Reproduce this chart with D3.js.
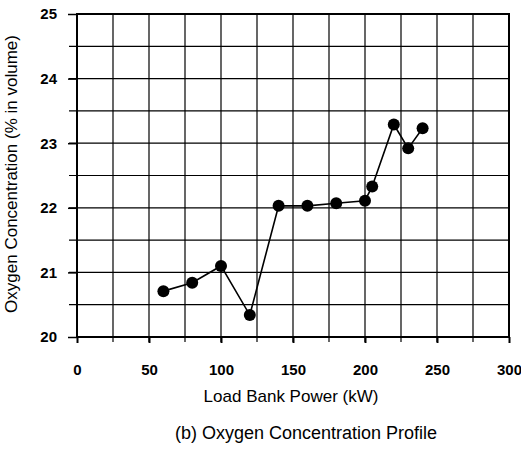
<!DOCTYPE html>
<html>
<head>
<meta charset="utf-8">
<script src="https://cdn.jsdelivr.net/npm/d3@7"></script>
<style>
  body { margin: 0; background: #fff; }
  text { font-family: "Liberation Sans", Arial, sans-serif; fill: #000; }
  .tick-label { font-size: 15px; font-weight: bold; }
  .label { font-size: 17px; }
  .caption { font-size: 18px; }
</style>
</head>
<body>
<div class="svg-container"></div>
<script>
var width = 521;
var height = 449;

var padding = { "top": 14, "right": 12, "bottom": 112, "left": 77 };

// data
var powerKW = [60, 80, 100, 120, 140, 160, 180, 200, 205, 220, 230, 240];
var oxygenPct = [20.71, 20.84, 21.10, 20.34, 22.03, 22.03, 22.07, 22.11, 22.33, 23.29, 22.92, 23.23];

var xTicks = [0, 50, 100, 150, 200, 250, 300];
var yTicks = [20, 21, 22, 23, 24, 25];

var innerW = width - padding.left - padding.right;
var innerH = height - padding.top - padding.bottom;

var svg = d3.select(".svg-container")
              .append("svg")
              .attr("width", width)
              .attr("height", height)
              .append("g")
              .attr("transform", "translate(" + padding.left + "," + padding.top + ")");

var scaleX = d3.scaleLinear().domain([0, 300]).range([0, innerW]);
var scaleY = d3.scaleLinear().domain([20, 25]).range([innerH, 0]);

// grid lines every 25 kW and every 0.5 %
svg.append("g")
    .selectAll("line")
    .data(d3.range(25, 300, 25))
    .enter()
    .append("line")
    .attr("x1", function(d) { return scaleX(d); })
    .attr("x2", function(d) { return scaleX(d); })
    .attr("y1", 0)
    .attr("y2", innerH + 5)
    .attr("stroke", "#000")
    .attr("stroke-width", 1.2);

svg.append("g")
    .selectAll("line")
    .data(d3.range(20.5, 25, 0.5))
    .enter()
    .append("line")
    .attr("x1", -8)
    .attr("x2", innerW)
    .attr("y1", function(d) { return scaleY(d); })
    .attr("y2", function(d) { return scaleY(d); })
    .attr("stroke", "#000")
    .attr("stroke-width", 1.2);

// frame
svg.append("rect")
    .attr("x", 0)
    .attr("y", 0)
    .attr("width", innerW)
    .attr("height", innerH)
    .attr("fill", "none")
    .attr("stroke", "#000")
    .attr("stroke-width", 2);

// axis ticks on bottom and left
svg.append("g")
    .attr("transform", "translate(0," + innerH + ")")
    .call(d3.axisBottom(scaleX).tickValues(xTicks).tickFormat(d3.format("d")).tickSize(6).tickPadding(21))
    .call(function(g) {
        g.select(".domain").remove();
        g.selectAll(".tick line").attr("stroke-width", 2);
        g.selectAll(".tick text").attr("class", "tick-label").attr("font-size", null).attr("font-family", null);
    });

svg.append("g")
    .call(d3.axisLeft(scaleY).tickValues(yTicks).tickFormat(d3.format("d")).tickSize(9).tickPadding(11))
    .call(function(g) {
        g.select(".domain").remove();
        g.selectAll(".tick line").attr("stroke-width", 1.5);
        g.selectAll(".tick text").attr("class", "tick-label").attr("font-size", null).attr("font-family", null);
    });

// the series
var line = d3.line()
    .x(function(d, i) { return scaleX(powerKW[i]); })
    .y(function(d) { return scaleY(d); });

svg.append("path")
    .datum(oxygenPct)
    .attr("fill", "none")
    .attr("stroke", "#000")
    .attr("stroke-width", 1.6)
    .attr("d", line);

svg.selectAll("circle")
    .data(oxygenPct)
    .enter()
    .append("circle")
    .attr("cx", function(d, i) { return scaleX(powerKW[i]); })
    .attr("cy", function(d) { return scaleY(d); })
    .attr("r", 6)
    .attr("fill", "#000");

// labels
svg.append("text")
    .attr("class", "label")
    .attr("x", innerW / 2 - 2)
    .attr("y", innerH + 65)
    .attr("text-anchor", "middle")
    .text("Load Bank Power (kW)");

svg.append("text")
    .attr("class", "label")
    .attr("transform", "rotate(270)")
    .attr("x", -160)
    .attr("y", -60)
    .attr("text-anchor", "middle")
    .text("Oxygen Concentration (% in volume)");

svg.append("text")
    .attr("class", "caption")
    .attr("x", innerW / 2 + 13)
    .attr("y", innerH + 102)
    .attr("text-anchor", "middle")
    .text("(b) Oxygen Concentration Profile");
</script>
</body>
</html>
